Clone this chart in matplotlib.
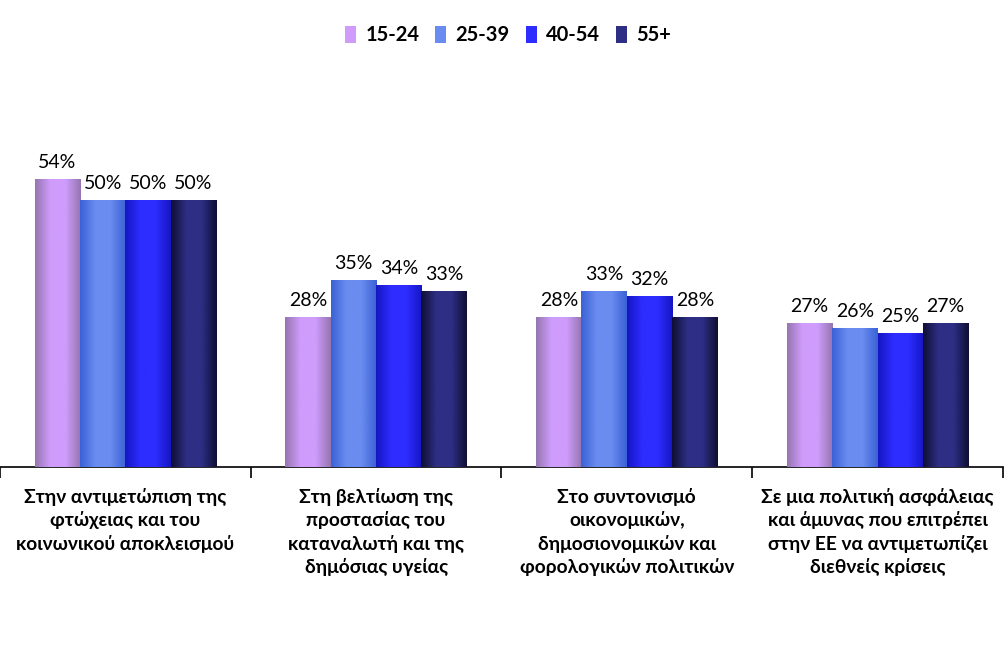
import numpy as np
import matplotlib.pyplot as plt
from matplotlib.colors import LinearSegmentedColormap

plt.rcParams['font.family'] = ['Lato', 'DejaVu Sans']

categories = [
    'Στην αντιμετώπιση της\nφτώχειας και του\nκοινωνικού αποκλεισμού',
    'Στη βελτίωση της\nπροστασίας του\nκαταναλωτή και της\nδημόσιας υγείας',
    'Στο συντονισμό\nοικονομικών,\nδημοσιονομικών και\nφορολογικών πολιτικών',
    'Σε μια πολιτική ασφάλειας\nκαι άμυνας που επιτρέπει\nστην ΕΕ να αντιμετωπίζει\nδιεθνείς κρίσεις',
]
ages = ['15-24', '25-39', '40-54', '55+']
v_15_24 = [54, 28, 28, 27]
v_25_39 = [50, 35, 33, 26]
v_40_54 = [50, 34, 32, 25]
v_55 = [50, 33, 28, 27]
series = [v_15_24, v_25_39, v_40_54, v_55]

# (edge, centre) colours for the horizontal shading
shades = [('#9676b0', '#cf9cfc'),
          ('#3b62d6', '#6a8cf0'),
          ('#1616c4', '#2d2dff'),
          ('#0f0f35', '#2e2e85')]

fig = plt.figure(figsize=(10.08, 6.61), dpi=100)
ax = fig.add_axes([0.0, 0.2935, 0.995, 0.5855])

x = np.arange(len(categories))
w = 0.181
ymax = 72.6

for i, (vals, (edge, mid)) in enumerate(zip(series, shades)):
    cmap = LinearSegmentedColormap.from_list('g%d' % i, [edge, mid, mid, edge])
    grad = np.linspace(0, 1, 64).reshape(1, -1)
    pos = x + (i - 1.5) * w
    bars = ax.bar(pos, vals, width=w, color=mid, label=ages[i], zorder=2)
    for b, v in zip(bars, vals):
        x0 = b.get_x()
        ax.imshow(grad, cmap=cmap, aspect='auto', zorder=3,
                  extent=[x0, x0 + b.get_width(), 0, b.get_height()])
        ax.annotate(f'{v}%', xy=(b.get_x() + b.get_width() / 2, b.get_height()),
                    xytext=(0, 6), textcoords='offset points',
                    ha='center', va='bottom', fontsize=14, color='black')

ax.set_xlim(-0.5, len(categories) - 0.5)
ax.set_ylim(0, ymax)
for s in ['top', 'right', 'left']:
    ax.spines[s].set_visible(False)
ax.spines['bottom'].set_linewidth(1.2)
ax.set_yticks([])

ax.set_xticks(np.arange(-0.5, len(categories)), labels=[''] * (len(categories) + 1))
ax.tick_params(axis='x', which='major', length=8, width=1.2, direction='out')
ax.set_xticks(x, labels=categories, minor=True)
ax.tick_params(axis='x', which='minor', length=0, pad=15)
for t in ax.get_xticklabels(minor=True):
    t.set_fontsize(13.8)
    t.set_fontweight('bold')
    t.set_linespacing(1.37)
    t.set_va('top')

leg = ax.legend(loc='upper center', bbox_to_anchor=(0.504, 1.0), bbox_transform=fig.transFigure,
                ncol=4, frameon=False, handlelength=0.55, handleheight=0.9,
                handletextpad=0.45, columnspacing=0.8,
                prop={'size': 14.5, 'weight': 'bold'}, borderaxespad=0.85)
for h, (edge, mid) in zip(leg.legend_handles, shades):
    h.set_facecolor(mid)

fig.savefig('out.png', dpi=100)
